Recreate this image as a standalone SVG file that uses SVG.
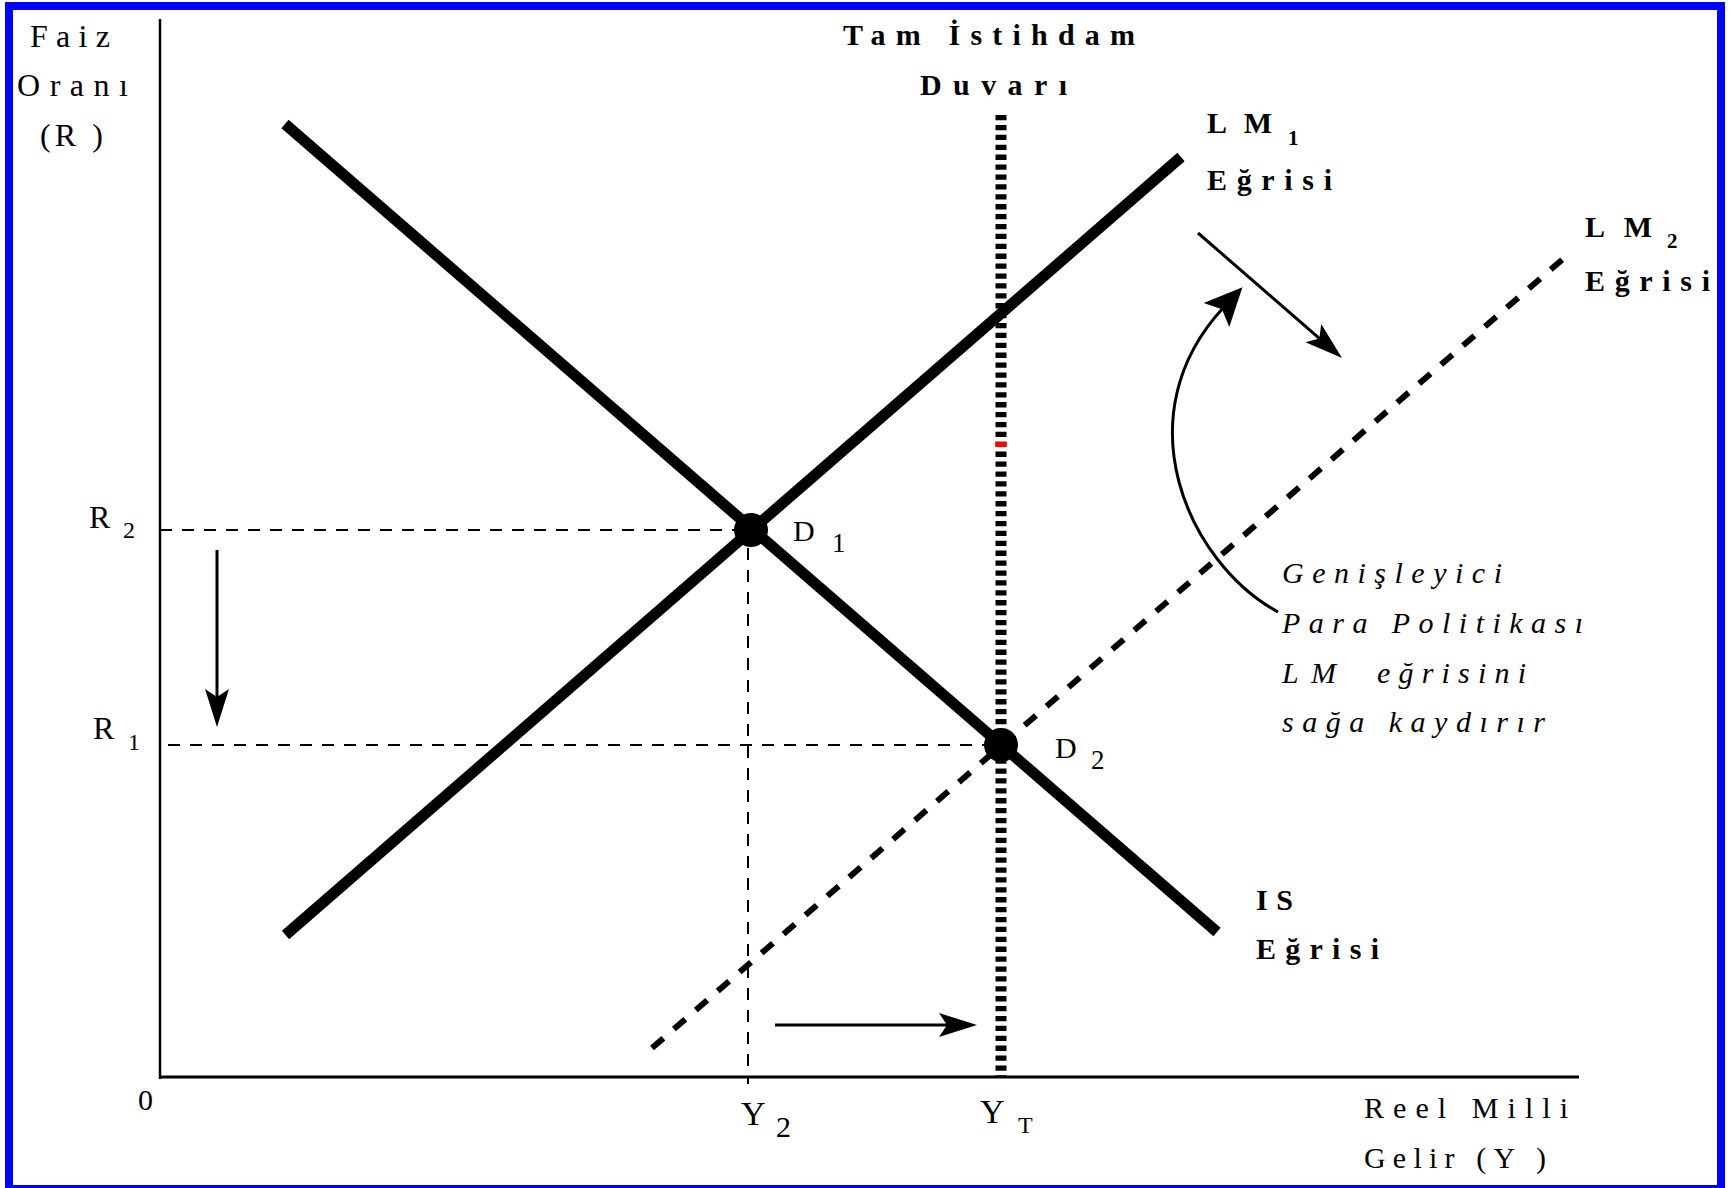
<svg xmlns="http://www.w3.org/2000/svg" width="1735" height="1188" viewBox="0 0 1735 1188">
<style>
text{font-family:"Liberation Serif","Times New Roman",serif;fill:#000}
.b{font-weight:bold}
.i{font-style:italic}
.r{font-size:32px}
.t{font-size:30px}
.sub{font-size:24px}
.curve{stroke:#000;stroke-width:11;stroke-linecap:butt;fill:none}
.guide{stroke:#000;stroke-width:2;stroke-dasharray:12 10;fill:none}
.arr{stroke:#000;stroke-width:3;fill:none}
.dot{fill:#000}
</style>
<defs>
<marker id="ah" markerUnits="userSpaceOnUse" orient="auto" overflow="visible" refX="-8" refY="0" markerWidth="1" markerHeight="1">
<path d="M0,0 L-38,-12 L-30,0 L-38,12 Z" fill="#000"/>
</marker>
<marker id="ahw" markerUnits="userSpaceOnUse" orient="auto" overflow="visible" refX="-27" refY="0" markerWidth="1" markerHeight="1">
<path d="M0,0 L-38,-17.5 L-30,0 L-38,17.5 Z" fill="#000"/>
</marker>
</defs>
<rect x="0" y="0" width="1735" height="1188" fill="#fff"/>
<rect x="9" y="6" width="1712" height="1183" fill="none" stroke="#0000ff" stroke-width="8"/>

<g id="axes">
<line x1="160" y1="19" x2="160" y2="1079" stroke="#000" stroke-width="2.5"/>
<line x1="160" y1="1077" x2="1579" y2="1077" stroke="#000" stroke-width="3"/>
</g>

<g id="guides">
<line class="guide" x1="160" y1="530" x2="736" y2="530"/>
<line class="guide" x1="168" y1="745" x2="985" y2="745"/>
<line class="guide" x1="748" y1="548" x2="748" y2="1084"/>
</g>

<g id="wall">
<line x1="1001" y1="115" x2="1001" y2="1077" stroke="#000" stroke-width="11" stroke-dasharray="5.3 4.6"/>
<rect x="995.5" y="441.7" width="11" height="5.3" fill="#ff0000"/>
</g>

<g id="is-curve">
<line class="curve" x1="285" y1="124" x2="1217" y2="932"/>
</g>
<g id="lm1-curve">
<line class="curve" x1="285.5" y1="935" x2="1181" y2="157"/>
</g>
<g id="lm2-curve">
<line x1="652" y1="1048" x2="1571" y2="252" stroke="#000" stroke-width="6" stroke-dasharray="15 14"/>
</g>

<g id="D1">
<circle class="dot" cx="751" cy="530" r="17"/>
<text class="t" x="793" y="541">D</text>
<text style="font-size:27px" x="832" y="552">1</text>
</g>
<g id="D2">
<circle class="dot" cx="1001" cy="745" r="17"/>
<text class="t" x="1055" y="758">D</text>
<text style="font-size:27px" x="1091" y="769">2</text>
</g>

<g id="connectors">
<line class="arr" x1="217" y1="550" x2="217" y2="719" marker-end="url(#ah)"/>
<line class="arr" x1="775" y1="1025" x2="969" y2="1025" marker-end="url(#ah)"/>
<line class="arr" stroke-width="2.5" x1="1198" y1="233" x2="1336" y2="352.8" marker-end="url(#ah)"/>
<path class="arr" stroke-width="2.5" d="M1278,612 C1188,563 1122,416 1224,307" marker-end="url(#ahw)"/>
</g>

<g id="y-axis-label">
<text class="r" x="30" y="47" textLength="80" lengthAdjust="spacing">Faiz</text>
<text class="r" x="17" y="96" textLength="111" lengthAdjust="spacing">Oranı</text>
<text class="r" x="40" y="146" textLength="63" lengthAdjust="spacing">(R )</text>
</g>

<g id="title">
<text class="t b" x="843" y="45" textLength="292" lengthAdjust="spacing">Tam İstihdam</text>
<text class="t b" x="920" y="95" textLength="147" lengthAdjust="spacing">Duvarı</text>
</g>

<g id="lm1-label">
<text class="t b" x="1207" y="133" textLength="65" lengthAdjust="spacing">LM</text>
<text class="b" style="font-size:21px" x="1288" y="145">1</text>
<text class="t b" x="1207" y="190" textLength="125" lengthAdjust="spacing">Eğrisi</text>
</g>

<g id="lm2-label">
<text class="t b" x="1585" y="237" textLength="67" lengthAdjust="spacing">LM</text>
<text class="b" style="font-size:21px" x="1667" y="248">2</text>
<text class="t b" x="1585" y="291" textLength="125" lengthAdjust="spacing">Eğrisi</text>
</g>

<g id="is-label">
<text class="t b" x="1256" y="910" textLength="37" lengthAdjust="spacing">IS</text>
<text class="t b" x="1256" y="959" textLength="123" lengthAdjust="spacing">Eğrisi</text>
</g>

<g id="policy-note">
<text class="t i" x="1282" y="583" textLength="220" lengthAdjust="spacing">Genişleyici</text>
<text class="t i" x="1282" y="633" textLength="301" lengthAdjust="spacing">Para Politikası</text>
<text class="t i" x="1282" y="683" textLength="54" lengthAdjust="spacing">LM</text>
<text class="t i" x="1377" y="683" textLength="149" lengthAdjust="spacing">eğrisini</text>
<text class="t i" x="1282" y="732" textLength="263" lengthAdjust="spacing">sağa kaydırır</text>
</g>

<g id="R2">
<text class="r" x="89" y="528">R</text>
<text class="sub" x="123" y="538">2</text>
</g>
<g id="R1">
<text class="r" x="93" y="739">R</text>
<text class="sub" x="128" y="750">1</text>
</g>

<g id="origin">
<text class="t" x="138" y="1110">0</text>
</g>
<g id="Y2">
<text style="font-size:34px" x="741" y="1125">Y</text>
<text class="t" x="776" y="1137">2</text>
</g>
<g id="YT">
<text style="font-size:34px" x="980" y="1123">Y</text>
<text class="sub" x="1018" y="1133">T</text>
</g>
<g id="x-axis-label">
<text class="t" x="1364" y="1118" textLength="204" lengthAdjust="spacing">Reel Milli</text>
<text class="t" x="1364" y="1168" textLength="182" lengthAdjust="spacing">Gelir (Y )</text>
</g>
</svg>
